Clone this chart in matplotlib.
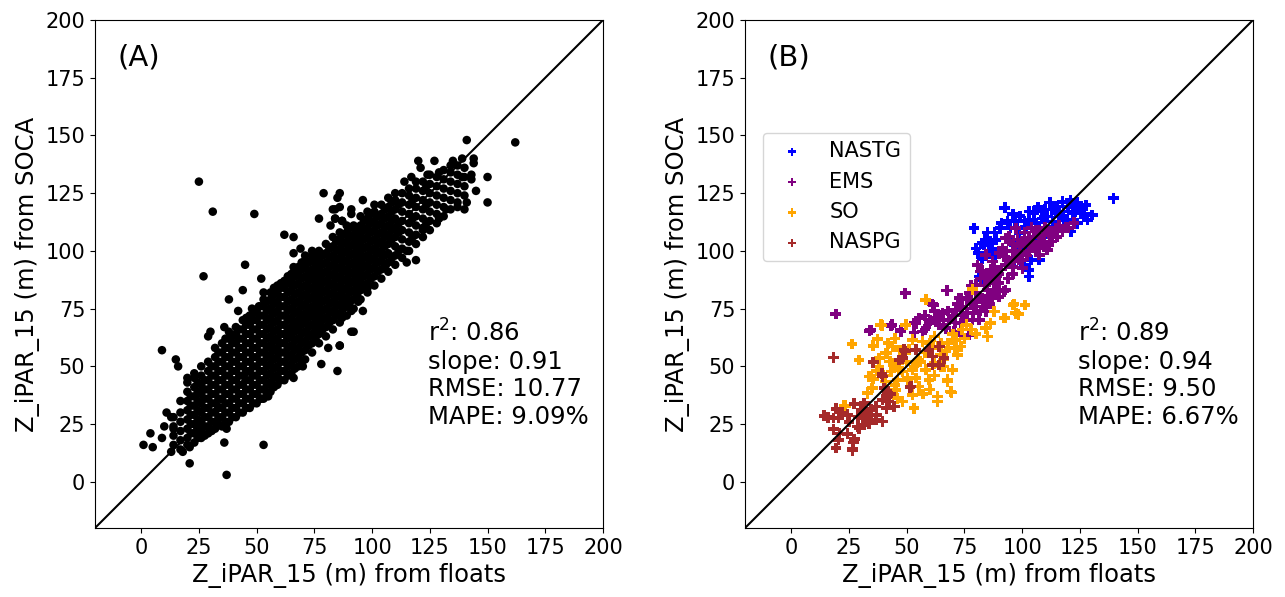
import matplotlib
matplotlib.use("Agg")
import matplotlib.pyplot as plt

# ---------------- data ----------------
ticks = [0, 25, 50, 75, 100, 125, 150, 175, 200]

# panel A: dense core, one x column with its y values
core_cols = [
    (14, [16, 20, 24, 28]),
    (17, [14, 18, 22, 26, 30, 35]),
    (20, [16, 19, 23, 27, 31, 35, 39, 43]),
    (23, [17, 21, 25, 29, 33, 37, 41, 45]),
    (26, [19, 22, 26, 30, 34, 38, 42, 46, 50]),
    (29, [21, 24, 28, 32, 36, 40, 44, 48, 52]),
    (32, [23, 26, 30, 34, 38, 42, 46, 50, 54, 58]),
    (35, [24, 28, 32, 36, 40, 44, 48, 52, 56, 60]),
    (38, [26, 30, 34, 38, 42, 46, 50, 54, 58, 62, 65]),
    (41, [28, 32, 36, 40, 44, 48, 52, 56, 60, 64, 67]),
    (44, [30, 34, 38, 42, 46, 50, 54, 58, 62, 66, 70]),
    (47, [32, 36, 40, 44, 48, 52, 56, 60, 64, 68, 72]),
    (50, [34, 38, 42, 46, 50, 54, 58, 62, 66, 70, 74]),
    (53, [36, 40, 44, 48, 52, 56, 60, 64, 68, 72, 76, 79]),
    (56, [39, 43, 47, 51, 55, 59, 63, 67, 71, 75, 79, 82]),
    (59, [42, 46, 50, 54, 58, 62, 66, 70, 74, 78, 82, 85]),
    (62, [44, 48, 52, 56, 60, 64, 68, 72, 76, 80, 84, 87]),
    (65, [47, 51, 55, 59, 63, 67, 71, 75, 79, 83, 87, 90]),
    (68, [50, 54, 58, 62, 66, 70, 74, 78, 82, 86, 90, 93]),
    (71, [53, 57, 61, 65, 69, 73, 77, 81, 85, 89, 93, 96]),
    (74, [56, 60, 64, 68, 72, 76, 80, 84, 88, 92, 96, 98]),
    (77, [60, 64, 68, 72, 76, 80, 84, 88, 92, 96, 100]),
    (80, [63, 67, 71, 75, 79, 83, 87, 91, 95, 99, 103]),
    (83, [66, 70, 74, 78, 82, 86, 90, 94, 98, 102, 106]),
    (86, [69, 73, 77, 81, 85, 89, 93, 97, 101, 105, 108]),
    (89, [72, 76, 80, 84, 88, 92, 96, 100, 104, 108, 111]),
    (92, [75, 79, 83, 87, 91, 95, 99, 103, 107, 111]),
    (95, [79, 83, 87, 91, 95, 99, 103, 107, 111, 115]),
    (98, [82, 86, 90, 94, 98, 102, 106, 110, 114, 117]),
    (101, [85, 89, 93, 97, 101, 105, 109, 113, 117, 120]),
    (104, [88, 92, 96, 100, 104, 108, 112, 116, 120]),
    (107, [91, 95, 99, 103, 107, 111, 115, 119, 123]),
    (110, [94, 98, 102, 106, 110, 114, 118, 122, 125]),
    (113, [97, 101, 105, 109, 113, 117, 121, 125]),
    (116, [100, 104, 108, 112, 116, 120, 124, 127]),
    (119, [103, 107, 111, 115, 119, 123, 127, 130]),
    (122, [106, 110, 114, 118, 122, 126, 130]),
    (125, [109, 113, 117, 121, 125, 129, 133]),
    (128, [112, 116, 120, 124, 128, 132]),
    (131, [115, 119, 123, 127, 131, 135]),
    (134, [118, 122, 126, 130, 134]),
    (137, [121, 125, 129, 133, 137]),
    (140, [124, 128, 132, 136]),
]

# panel A: points between the columns above
core_cols_mid = [
    (21.5, [21, 25, 29, 33, 37]),
    (24.5, [19, 23, 27, 31, 35, 39, 43]),
    (27.5, [20, 24, 28, 32, 36, 40, 44]),
    (30.5, [22, 26, 30, 34, 38, 42, 46, 50]),
    (33.5, [25, 28, 32, 36, 40, 44, 48, 52, 56]),
    (36.5, [26, 30, 34, 38, 42, 46, 50, 54, 58, 62]),
    (39.5, [28, 32, 36, 40, 44, 48, 52, 56, 60, 63]),
    (42.5, [30, 34, 38, 42, 46, 50, 54, 58, 62, 66]),
    (45.5, [32, 36, 40, 44, 48, 52, 56, 60, 64, 68, 71]),
    (48.5, [34, 38, 42, 46, 50, 54, 58, 62, 66, 70, 73]),
    (51.5, [36, 40, 44, 48, 52, 56, 60, 64, 68, 72, 76]),
    (54.5, [38, 42, 46, 50, 54, 58, 62, 66, 70, 74, 78]),
    (57.5, [41, 45, 49, 53, 57, 61, 65, 69, 73, 77, 81, 84]),
    (60.5, [44, 48, 52, 56, 60, 64, 68, 72, 76, 80, 84, 86]),
    (63.5, [46, 50, 54, 58, 62, 66, 70, 74, 78, 82, 86, 89]),
    (66.5, [49, 53, 57, 61, 65, 69, 73, 77, 81, 85, 89, 92]),
    (69.5, [52, 56, 60, 64, 68, 72, 76, 80, 84, 88, 92, 95]),
    (72.5, [59, 63, 67, 71, 75, 79, 83, 87, 91, 95]),
    (75.5, [62, 66, 70, 74, 78, 82, 86, 90, 94, 98]),
    (78.5, [66, 70, 74, 78, 82, 86, 90, 94, 98]),
    (81.5, [69, 73, 77, 81, 85, 89, 93, 97, 101]),
    (84.5, [72, 76, 80, 84, 88, 92, 96, 100, 104]),
    (87.5, [75, 79, 83, 87, 91, 95, 99, 103, 107]),
    (90.5, [78, 82, 86, 90, 94, 98, 102, 106, 110]),
    (93.5, [81, 85, 89, 93, 97, 101, 105, 109]),
    (96.5, [85, 89, 93, 97, 101, 105, 109, 113]),
    (99.5, [88, 92, 96, 100, 104, 108, 112, 116]),
    (102.5, [91, 95, 99, 103, 107, 111, 115]),
    (105.5, [94, 98, 102, 106, 110, 114, 118]),
    (108.5, [97, 105, 109, 113, 117, 121]),
    (111.5, [100, 108, 112, 120]),
    (117.5, [106, 114, 122]),
    (123.5, [112, 120, 128]),
]

# panel A: scattered points around the core
edge_x = [25, 31, 49, 27, 45, 62, 66, 79, 86, 85, 83, 86, 77, 82, 87, 84, 69, 74, 66, 71,
          66, 73, 52, 44, 53, 61, 38, 42, 48, 51, 9, 15, 16, 4, 1, 5, 10, 9, 14, 11,
          13, 21, 37, 53, 21, 18, 13, 20, 23, 30, 29, 36, 78, 85, 86, 81, 87, 91, 91, 88,
          66, 70, 55, 52, 36, 37, 162, 141, 144, 144, 150, 150, 145, 140, 141, 143, 143, 139, 139, 135,
          134, 127, 120, 121, 124, 117, 114, 129, 119, 115, 96, 91, 91, 84, 84, 87, 96, 94, 92, 86,
          88, 91, 98, 106, 115, 129, 132, 137, 122]
edge_y = [130, 117, 116, 89, 94, 107, 106, 125, 125, 123, 118, 119, 114, 111, 113, 114, 101, 100, 99, 98,
          93, 89, 88, 83, 82, 86, 79, 74, 75, 76, 57, 53, 50, 21, 16, 15, 24, 19, 23, 30,
          28, 8, 3, 16, 15, 13, 13, 45, 47, 65, 63, 67, 51, 48, 59, 58, 71, 65, 74, 76,
          45, 50, 37, 36, 17, 23, 147, 148, 140, 138, 132, 121, 126, 118, 121, 133, 131, 132, 140, 139,
          137, 139, 139, 136, 133, 132, 130, 134, 96, 95, 122, 118, 116, 118, 114, 113, 74, 78, 65, 59,
          76, 75, 84, 94, 100, 114, 118, 119, 109]

# panel B, by region
nastg_x = [92.5, 93.6, 79.2, 90.5, 83.5, 86.4, 88.6, 82.8, 88.2, 81.4, 83.5, 98, 101.6, 103.8, 103, 103,
           100.9, 101.6, 103, 105.2, 108.7, 110.9, 114.6, 117.5, 121.8, 119.6, 116, 113.1, 111.7, 107.4,
           98.7, 105.9, 96.5, 139.5, 127.6, 130.4, 128.3, 125.4, 122.5, 105.2, 109.5, 114.6, 119.6, 121.1,
           107.4, 82.8, 82.6, 83.3, 115.3, 124.7, 110.7, 95, 97, 99, 110, 112, 118, 120, 124, 126, 115, 118,
           124, 112, 95, 86, 80, 85, 101, 103, 107, 109, 113, 117, 121, 123, 127, 106, 98, 96, 91, 88,
           84, 81, 87]
nastg_y = [118.7, 113, 109.8, 109.8, 102.6, 104, 104.8, 96.8, 98.3, 88.9, 87.4, 100.4, 101.9, 96.1, 91.8, 88.9,
           93.9, 110.5, 113.4, 116.3, 114.1, 114.9, 119.2, 121.3, 116.3, 113.4, 114.9, 112.7, 109.1, 109.8,
           107.6, 104, 96.1, 122.8, 119.9, 115.6, 113.4, 116.3, 119.9, 117, 114.9, 117.7, 113.4, 108.4,
           96.1, 103.3, 96.5, 87.4, 119.2, 118.5, 114.9, 110, 113, 115, 118, 121, 117, 119, 121, 118, 110, 111,
           112, 106, 104, 99, 101, 108, 113, 117, 119, 117, 118, 115, 122, 117, 116, 112, 110, 116, 112, 108,
           105, 99, 101]

ems_x = [34, 47.5, 53.2, 49.4, 67.7, 61.2, 72.7, 77.1, 80, 82.6, 86.9, 43.6, 47.5, 53.2, 55.4, 62.6, 65.5,
         68.4, 71.3, 74.2, 76.3, 80, 84.3, 84.3, 88.6, 92.2, 87.9, 73.5, 70.6, 77.1, 74.2, 64.1, 59.7, 56.8,
         67, 78.6, 81.4, 81.4, 77.8, 97.3, 94.4, 91.5, 92.2, 95.8, 99.4, 103, 105.9, 109.5, 113.1, 114.6,
         117.5, 122.5, 109.5, 110.9, 107.4, 106.6, 100.1, 98.7, 92.9, 86.4, 82.1, 80.6, 87.2, 90, 92.9, 84.3,
         77.8, 88.6, 92.9, 90, 85.7, 73.5, 82.8, 87.2, 122.5, 117.5, 111.7, 107.4, 110.2, 105.9, 67.4, 61.5,
         19.3, 34.5, 43.2, 54, 86.6, 95, 97, 100, 102, 104, 96, 94, 90, 88, 84, 80, 76, 72, 70, 66, 62, 58,
         75, 79, 83, 86, 90, 98, 101, 104, 108, 112, 115, 119, 96, 93,
         78, 82, 85, 89, 91, 94, 97, 99, 101, 103, 105, 107, 100, 96, 88, 84, 80, 76, 74, 68, 64, 71, 58,
         60, 82, 86, 113, 116, 120, 110]
ems_y = [65.4, 65.1, 64.6, 81.7, 82.8, 76.9, 79.5, 81.7, 85.3, 91.5, 90.3, 68, 65.8, 68.7, 70.9, 70.9, 73,
         70.1, 74.5, 75.9, 73, 75.9, 73.7, 78.8, 81.7, 82.4, 86, 68.7, 65.1, 63.6, 63.6, 68, 68.7, 65.1,
         66.5, 70.1, 70.1, 79.5, 77.4, 109.8, 106.2, 101.2, 97.5, 99.7, 101.9, 105.5, 109.1, 106.9, 107.6, 109.8,
         109.1, 112.3, 103.3, 100.4, 98.3, 101.2, 92.5, 96.1, 93.9, 91.8, 91.1, 93.9, 95.4, 99, 105.5, 98.3,
         81.7, 83.1, 83.1, 86, 87.4, 79.5, 79.5, 79.5, 112, 108.4, 107.6, 106.2, 101.9, 100.4, 82.8, 76.6,
         72.7, 65.8, 67.5, 68.7, 91.8, 95, 100, 104, 98, 103, 90, 88, 90, 93, 85, 82, 79, 77, 72, 70, 74, 72,
         70, 73, 76, 80, 80, 105, 108, 110, 104, 104, 106, 110, 103, 100,
         85, 88, 83, 89, 92, 96, 97, 99, 103, 100, 106, 109, 96, 93, 86, 90, 78, 75, 72, 74, 72, 69, 66,
         70, 74, 77, 104, 111, 110, 110]

so_x = [26.3, 37.4, 35.5, 29.4, 38.1, 41.4, 42.7, 44.6, 43.2, 33.8, 35.5, 40.7, 35.2, 45.3, 46, 48.2, 50.3,
        52.5, 53.2, 23.4, 48.2, 52.5, 58.3, 96.5, 97.3, 92.6, 87.9, 86.4, 85, 84.3, 49.6, 38.8, 41, 52.5,
        56.8, 73.5, 71.3, 67, 61.9, 58.3, 53.2, 59.7, 67.7, 69.1, 63.3, 55.4, 50.4, 46.8, 44.6, 43.9, 51.1,
        64.8, 69.8, 66.2, 96.1, 101.3, 78.5, 98.5, 92.2, 39.3, 34.5, 33, 34.7, 63.3, 69.4, 67.7, 22.9,
        40, 46, 48, 55, 58, 60, 62, 65, 70, 75, 78, 80, 72, 62, 57, 38, 50, 45, 65, 76,
        42, 47, 54, 56, 61, 66, 68, 74, 71, 60, 45, 37]
so_y = [59.7, 61.8, 58.9, 52.8, 53.5, 55.7, 52.1, 49.9, 47.7, 45.6, 44.5, 43.4, 40.6, 39.8, 36.2, 34.8, 44.2,
        37.7, 31.9, 32.9, 47.7, 48.5, 78.8, 76.9, 73, 70.9, 73.7, 68.7, 62.9, 66.5, 68, 68, 55.7, 61.5,
        60.7, 58.6, 61.5, 56.7, 51.4, 48.5, 49.9, 44.2, 43.4, 39.1, 36.9, 41.3, 44.9, 48.5, 51.4, 58.6, 57.2,
        55, 48.5, 49.9, 76.6, 76.6, 83.4, 72.6, 70.9, 67.7, 45.6, 38.4, 40.5, 34.8, 38.7, 44.2, 32.9,
        46, 44, 53, 53, 56, 60, 63, 60, 64, 62, 66, 64, 55, 46, 38, 50, 52, 62, 50, 68,
        60, 57, 45, 52, 58, 53, 60, 66, 58, 40, 42, 48]

naspg_x = [18.3, 35.5, 39.3, 49.4, 46.8, 51.5, 14.3, 18.3, 20.5, 19.4, 24.4, 27.3, 18.3, 20.5, 19.4, 24.4,
           27.3, 26.5, 29.4, 31.6, 32.3, 34.5, 36.7, 39.5, 33.8, 36.7, 39.5, 41.7, 42.4, 44.6, 41.3, 30.2,
           30.9, 28.7, 31.6, 34.5, 48.9, 54, 48.2, 59.7, 61.2, 64.1, 66.2, 61.2, 64.1, 39.5, 51.8, 40.3,
           41.7, 26.6, 27, 24.4, 22, 25, 29, 33, 37, 43, 21, 16]
naspg_y = [53.8, 51.8, 46.9, 56.7, 52.8, 40.8, 28.6, 27.6, 27.6, 31.6, 29, 33.8, 22.8, 18.2, 14.6, 20.8,
           18.5, 14.2, 23.2, 34.1, 28.3, 31.2, 26.8, 26.1, 25.4, 32.6, 35.5, 38.4, 34.8, 32.6, 31.9, 31.2,
           27.6, 23.9, 24.7, 29, 57.2, 57.2, 53.5, 57.2, 54.3, 58.6, 53.5, 50.6, 50.6, 45.6, 41.3, 40.6,
           36.9, 13.6, 17, 29.2, 30, 26, 28, 30, 29, 38, 21, 28]

stats_a = ["r$^2$: 0.86", "slope: 0.91", "RMSE: 10.77", "MAPE: 9.09%"]
stats_b = ["r$^2$: 0.89", "slope: 0.94", "RMSE: 9.50", "MAPE: 6.67%"]

# flatten the core columns
a_x = []
a_y = []
for cx, ys in core_cols + core_cols_mid:
    for yy in ys:
        a_x.append(cx)
        a_y.append(yy)
a_x += edge_x
a_y += edge_y

fig = plt.figure(figsize=(12.85, 5.97), dpi=100)
ax1 = fig.add_axes([95 / 1285, 69 / 597, 508 / 1285, 508 / 597])
ax2 = fig.add_axes([745 / 1285, 69 / 597, 508 / 1285, 508 / 597])

ax1.scatter(a_x, a_y, s=38, color="black", edgecolors="none", zorder=2)

ax2.scatter(nastg_x, nastg_y, s=60, marker="P", color="blue", edgecolors="none", label="NASTG", zorder=2)
ax2.scatter(ems_x, ems_y, s=60, marker="P", color="purple", edgecolors="none", label="EMS", zorder=2)
ax2.scatter(so_x, so_y, s=60, marker="P", color="orange", edgecolors="none", label="SO", zorder=2)
ax2.scatter(naspg_x, naspg_y, s=60, marker="P", color="brown", edgecolors="none", label="NASPG", zorder=2)

for ax, tag, stats in [(ax1, "(A)", stats_a), (ax2, "(B)", stats_b)]:
    ax.plot([-20, 200], [-20, 200], color="black", lw=1.5, zorder=3)
    ax.set_xlim(-20, 200)
    ax.set_ylim(-20, 200)
    ax.set_xticks(ticks)
    ax.set_yticks(ticks)
    ax.tick_params(labelsize=15)
    ax.set_xlabel("Z_iPAR_15 (m) from floats", fontsize=17.5)
    ax.set_ylabel("Z_iPAR_15 (m) from SOCA", fontsize=17.5)
    ax.text(0.045, 0.927, tag, transform=ax.transAxes, fontsize=21, va="center")
    ax.text(0.655, 0.41, "\n".join(stats), transform=ax.transAxes, fontsize=17.5,
            va="top", linespacing=1.17)

ax2.legend(loc="upper left", bbox_to_anchor=(0.035, 0.778), borderaxespad=0,
           fontsize=15, markerscale=0.75)

plt.savefig("out.png", dpi=100)
